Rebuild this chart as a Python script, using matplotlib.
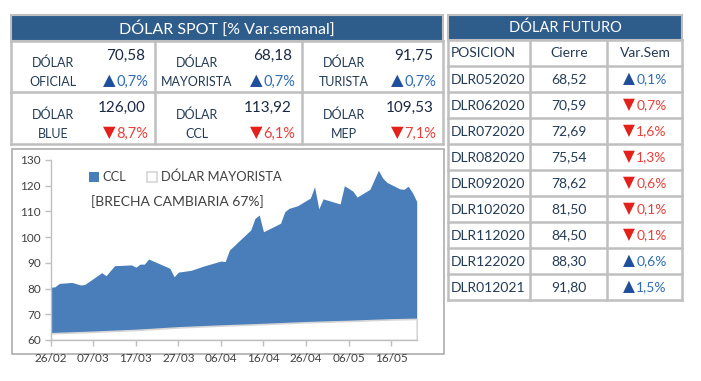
import matplotlib
matplotlib.use('Agg')
import matplotlib.pyplot as plt
import matplotlib.dates as mdates
from matplotlib.patches import Rectangle
import pandas as pd

plt.rcParams['font.family'] = ['Lato', 'DejaVu Sans']

# --- data ---
spot_title = 'DÓLAR SPOT [% Var.semanal]'
spot_labels = ['OFICIAL', 'MAYORISTA', 'TURISTA', 'BLUE', 'CCL', 'MEP']
spot_values = [70.58, 68.18, 91.75, 126.00, 113.92, 109.53]
spot_changes = [0.7, 0.7, 0.7, -8.7, -6.1, -7.1]

fut_title = 'DÓLAR FUTURO'
fut_header = ['POSICION', 'Cierre', 'Var.Sem']
fut_pos = ['DLR052020', 'DLR062020', 'DLR072020', 'DLR082020', 'DLR092020',
           'DLR102020', 'DLR112020', 'DLR122020', 'DLR012021']
fut_close = [68.52, 70.59, 72.69, 75.54, 78.62, 81.50, 84.50, 88.30, 91.80]
fut_changes = [0.1, -0.7, -1.6, -1.3, -0.6, -0.1, -0.1, 0.6, 1.5]

ccl_dates = ['2020-02-26', '2020-02-27', '2020-02-28', '2020-03-02', '2020-03-04',
             '2020-03-05', '2020-03-09', '2020-03-10', '2020-03-12', '2020-03-16',
             '2020-03-17', '2020-03-18', '2020-03-19', '2020-03-20', '2020-03-25',
             '2020-03-26', '2020-03-27', '2020-03-30', '2020-04-02', '2020-04-06',
             '2020-04-07', '2020-04-08', '2020-04-13', '2020-04-14', '2020-04-15',
             '2020-04-16', '2020-04-20', '2020-04-21', '2020-04-22', '2020-04-24',
             '2020-04-27', '2020-04-28', '2020-04-29', '2020-04-30', '2020-05-04',
             '2020-05-05', '2020-05-07', '2020-05-08', '2020-05-11', '2020-05-13',
             '2020-05-14', '2020-05-15', '2020-05-18', '2020-05-19', '2020-05-20',
             '2020-05-21', '2020-05-22']
ccl_values = [80.5, 80.7, 82.0, 82.4, 81.4,
              81.6, 86.2, 85.0, 88.9, 89.2,
              88.3, 89.5, 89.5, 91.5, 87.9,
              84.6, 86.4, 87.1, 88.8, 90.7,
              90.5, 95.0, 102.8, 107.3, 108.6,
              102.1, 105.4, 109.9, 111.2, 112.2,
              115.2, 119.6, 111.0, 114.9, 112.9,
              120.0, 117.9, 115.6, 118.6, 126.0,
              123.0, 121.3, 118.8, 118.6, 119.8,
              117.3, 113.9]

may_dates = ['2020-02-26', '2020-03-07', '2020-03-17', '2020-03-27', '2020-04-06',
             '2020-04-16', '2020-04-26', '2020-05-06', '2020-05-16', '2020-05-22']
may_values = [62.6, 63.2, 63.9, 64.9, 65.6, 66.2, 66.9, 67.4, 68.0, 68.2]

brecha = '[BRECHA CAMBIARIA 67%]'

# --- styles ---
HEAD = '#2E5D8C'
GRID = '#BFBFBF'
LABEL = '#243B55'
VALUE = '#1B2A44'
UP_TXT, UP_TRI = '#2F6DB5', '#1F4E9A'
DN_TXT, DN_TRI = '#E8403A', '#E3201B'


def fmt(v, nd=2):
    return f'{v:.{nd}f}'.replace('.', ',')


fig = plt.figure(figsize=(7.01, 3.81), dpi=100)
renderer = fig.canvas.get_renderer()
bg = fig.add_axes([0, 0, 1, 1])
bg.set_xlim(0, 701)
bg.set_ylim(381, 0)
bg.axis('off')


def change_text(x, y, chg, ha='right', size=10):
    up = chg >= 0
    s = fmt(abs(chg), 1) + '%'
    t = bg.text(0, y, s, fontsize=size, color=UP_TXT if up else DN_TXT,
                ha='right', va='center')
    tri = bg.text(0, y - 0.5, '▲' if up else '▼', fontsize=size * 1.12,
                  family='DejaVu Sans', color=UP_TRI if up else DN_TRI,
                  ha='right', va='center')
    w1 = t.get_window_extent(renderer).width
    w2 = tri.get_window_extent(renderer).width
    gap = 1.0
    right = x if ha == 'right' else x + (w1 + w2 + gap) / 2
    t.set_x(right)
    tri.set_x(right - w1 - gap)


# left table
bg.add_patch(Rectangle((11, 15), 432, 26, facecolor=HEAD, edgecolor=GRID, lw=1.5))
bg.text(227, 28.5, spot_title, color='white', fontsize=11.5, ha='center', va='center')
xs = [11, 155, 301.5, 443]
ys = [41, 92, 143.5]
for x in xs:
    bg.plot([x, x], [ys[0], ys[-1]], color=GRID, lw=1.8, solid_capstyle='projecting')
for y in ys:
    bg.plot([xs[0], xs[-1]], [y, y], color=GRID, lw=1.8, solid_capstyle='projecting')
for i, (lab, val, chg) in enumerate(zip(spot_labels, spot_values, spot_changes)):
    c, r = i % 3, i // 3
    x0, x1, y0 = xs[c], xs[c + 1], ys[r]
    cx = x0 + 42
    bg.text(cx, y0 + 21.5 + r, 'DÓLAR', fontsize=9, color=LABEL, ha='center', va='center')
    bg.text(cx, y0 + 40.5 + r, lab, fontsize=9, color=LABEL, ha='center', va='center')
    bg.text(x1 - 9.5, y0 + 14.5 + r, fmt(val), fontsize=11, color=VALUE,
            ha='right', va='center')
    change_text(x1 - 6.5, y0 + 40.5 + r, chg, size=10.5)

# right table
fx = [447.5, 530, 607, 682]
bg.add_patch(Rectangle((fx[0], 15), fx[-1] - fx[0], 25, facecolor=HEAD,
                       edgecolor=GRID, lw=1.5))
bg.text(565, 28, fut_title, color='white', fontsize=10.5, ha='center', va='center')
n_rows = len(fut_pos) + 1
fy = [40 + 26 * k for k in range(n_rows + 1)]
for x in fx:
    bg.plot([x, x], [fy[0], fy[-1]], color=GRID, lw=1.8, solid_capstyle='projecting')
for y in fy:
    bg.plot([fx[0], fx[-1]], [y, y], color=GRID, lw=1.8, solid_capstyle='projecting')
hy = fy[0] + 13
bg.text(451, hy, fut_header[0], fontsize=10, color=LABEL, ha='left', va='center')
bg.text(569, hy, fut_header[1], fontsize=10, color=LABEL, ha='center', va='center')
bg.text(645, hy, fut_header[2], fontsize=10, color=LABEL, ha='center', va='center')
for k, (pos, val, chg) in enumerate(zip(fut_pos, fut_close, fut_changes)):
    y = fy[k + 1] + 13.5
    bg.text(451, y, pos, fontsize=10, color=LABEL, ha='left', va='center')
    bg.text(569, y, fmt(val), fontsize=10, color=LABEL, ha='center', va='center')
    change_text(645, y, chg, ha='center', size=10)

# chart box
bg.add_patch(Rectangle((11.5, 148.5), 432.5, 205, facecolor='none',
                       edgecolor='#A6A6A6', lw=1.1))

# chart
ax = fig.add_axes([50.7 / 701, 41 / 381, 366 / 701, 180 / 381])
ax.patch.set_alpha(0)
cd = pd.to_datetime(ccl_dates)
md = pd.to_datetime(may_dates)
ax.fill_between(cd, 60, ccl_values, color='#4A7EBB', lw=0, label='CCL', zorder=1)
ax.fill_between(md, 60, may_values, facecolor='white', edgecolor='#D6D6D6', lw=1.2,
                label='DÓLAR MAYORISTA', zorder=2)
ax.set_ylim(60, 130)
ax.set_yticks(range(60, 131, 10))
ax.set_xlim(cd[0], cd[-1])
ax.set_xticks(pd.date_range(ccl_dates[0], periods=9, freq='10D'))
ax.xaxis.set_major_formatter(mdates.DateFormatter('%d/%m'))
for s in ['top', 'right']:
    ax.spines[s].set_visible(False)
for s in ['left', 'bottom']:
    ax.spines[s].set_color('#BFBFBF')
    ax.spines[s].set_linewidth(1.0)
ax.tick_params(axis='both', colors='#BFBFBF', labelcolor='#404040', labelsize=8.5,
               length=4, width=1.0)
ax.tick_params(axis='x', pad=5)
ax.tick_params(axis='y', pad=3)
ax.legend(loc='center left', bbox_to_anchor=(0.105, 0.906), ncol=2, frameon=False,
          fontsize=9.3, borderpad=0, borderaxespad=0, handlelength=0.8,
          handleheight=0.8, handletextpad=0.25, columnspacing=1.6,
          labelcolor='#404040')
ax.text(0.11, 0.767, brecha, transform=ax.transAxes, fontsize=10, color='#404040',
        ha='left', va='center')

fig.savefig('out.png', dpi=100)
